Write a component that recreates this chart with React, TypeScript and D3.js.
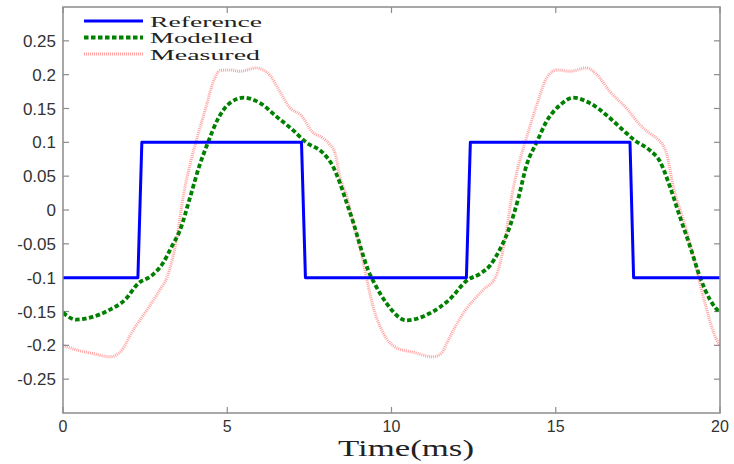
import React from "react";
import * as d3 from "d3";

const refT = [0, 2.28, 2.4, 7.26, 7.38, 12.28, 12.4, 17.26, 17.37, 20];
const refV = [-0.1, -0.1, 0.1, 0.1, -0.1, -0.1, 0.1, 0.1, -0.1, -0.1];

const modT = [0, 0.4, 0.9, 1.4, 1.9, 2.3, 2.7, 3.05, 3.3, 3.56, 3.87, 4.15, 4.4, 4.7, 5.08, 5.5, 6.0, 6.5, 7.0, 7.4, 7.9, 8.2, 8.43, 8.64, 8.84, 9.04, 9.29, 9.5, 9.85, 10.45, 11.15, 11.75, 12.3, 12.7, 13.0, 13.3, 13.56, 13.87, 14.11, 14.42, 14.72, 15.13, 15.53, 16.04, 16.55, 17.05, 17.4, 17.87, 18.17, 18.48, 18.78, 19.09, 19.39, 19.7, 20];
const modV = [-0.152, -0.162, -0.158, -0.148, -0.132, -0.108, -0.097, -0.078, -0.055, -0.03, 0.019, 0.065, 0.098, 0.133, 0.158, 0.166, 0.158, 0.138, 0.118, 0.1, 0.085, 0.066, 0.04, 0.01, -0.019, -0.052, -0.089, -0.11, -0.138, -0.163, -0.153, -0.133, -0.104, -0.094, -0.082, -0.058, -0.03, 0.019, 0.066, 0.1, 0.131, 0.155, 0.166, 0.158, 0.14, 0.118, 0.103, 0.088, 0.072, 0.034, -0.01, -0.054, -0.099, -0.133, -0.152];

const meaT = [0, 0.5, 0.9, 1.43, 1.74, 2.13, 2.55, 2.95, 3.16, 3.47, 3.66, 3.87, 4.1, 4.37, 4.57, 4.78, 5.08, 5.39, 5.9, 6.09, 6.3, 6.6, 6.91, 7.25, 7.6, 7.92, 8.1, 8.28, 8.43, 8.64, 8.84, 9.04, 9.19, 9.44, 9.75, 10.16, 10.65, 11.27, 11.55, 11.68, 12.18, 12.79, 13.16, 13.47, 13.66, 13.87, 14.11, 14.42, 14.72, 15.03, 15.43, 15.94, 16.25, 16.65, 17.16, 17.56, 17.9, 18.1, 18.37, 18.58, 18.89, 19.19, 19.49, 19.9, 20];
const meaV = [-0.2, -0.208, -0.212, -0.217, -0.21, -0.178, -0.148, -0.118, -0.1, -0.04, 0.02, 0.068, 0.11, 0.155, 0.189, 0.206, 0.207, 0.205, 0.21, 0.207, 0.199, 0.175, 0.151, 0.14, 0.115, 0.106, 0.098, 0.084, 0.049, 0.02, -0.019, -0.055, -0.089, -0.143, -0.182, -0.204, -0.21, -0.217, -0.21, -0.197, -0.153, -0.118, -0.1, -0.04, 0.02, 0.067, 0.107, 0.155, 0.195, 0.207, 0.205, 0.21, 0.2, 0.175, 0.15, 0.126, 0.112, 0.105, 0.084, 0.034, -0.015, -0.069, -0.128, -0.192, -0.2];

const xTicks = [0, 5, 10, 15, 20];
const yTicks = [0.25, 0.2, 0.15, 0.1, 0.05, 0, -0.05, -0.1, -0.15, -0.2, -0.25];
const legendLabels = ["Reference", "Modelled", "Measured"];

export default function App() {
  const W = 734, H = 464;
  const L = 63, R = 720, T = 7, B = 413;
  const x = d3.scaleLinear().domain([0, 20]).range([L, R]);
  const y = d3.scaleLinear().domain([-0.3, 0.3]).range([B, T]);
  const line = d3.line<[number, number]>().x(d => x(d[0])).y(d => y(d[1]));
  const smooth = d3.line<[number, number]>().x(d => x(d[0])).y(d => y(d[1])).curve(d3.curveMonotoneX);
  const refD = line(refT.map((t, i) => [t, refV[i]]));
  const modD = smooth(modT.map((t, i) => [t, modV[i]]));
  const meaD = smooth(meaT.map((t, i) => [t, meaV[i]]));
  const axisColor = "#8c8c8c";
  const tickLen = 6;
  const styles = [
    { stroke: "#0000ff", width: 3, dash: undefined as string | undefined, opacity: 1 },
    { stroke: "#008000", width: 3.8, dash: "4.5 2.5", opacity: 1 },
    { stroke: "#ff3030", width: 3, dash: "1 1", opacity: 0.45 },
  ];
  const legendY = [21, 37.5, 54];
  const legendTextLen = [112, 103, 110];
  const serif = "Liberation Serif, Times New Roman, serif";
  return (
    <div style={{ position: "fixed", left: 0, top: 0, width: W, height: H, background: "#fff" }}>
      <svg width={W} height={H} style={{ display: "block" }}>
        <rect x={0} y={0} width={W} height={H} fill="#fff" />
        <defs>
          <clipPath id="plotclip">
            <rect x={L} y={T} width={R - L} height={B - T} />
          </clipPath>
        </defs>
        {xTicks.map(t => (
          <g key={"xt" + t}>
            <line x1={x(t)} x2={x(t)} y1={B} y2={B - tickLen} stroke={axisColor} strokeWidth={1.2} />
            <line x1={x(t)} x2={x(t)} y1={T} y2={T + tickLen} stroke={axisColor} strokeWidth={1.2} />
            <text x={x(t)} y={432} textAnchor="middle" fontFamily="Liberation Sans, Arial, sans-serif" fontSize={16} fill="#333">{t}</text>
          </g>
        ))}
        {yTicks.map(v => (
          <g key={"yt" + v}>
            <line x1={L} x2={L + tickLen} y1={y(v)} y2={y(v)} stroke={axisColor} strokeWidth={1.2} />
            <line x1={R} x2={R - tickLen} y1={y(v)} y2={y(v)} stroke={axisColor} strokeWidth={1.2} />
            <text x={56} y={y(v) + 6} textAnchor="end" fontFamily="Liberation Sans, Arial, sans-serif" fontSize={17} fill="#333">{String(v)}</text>
          </g>
        ))}
        <g clipPath="url(#plotclip)">
          <path d={meaD || ""} fill="none" stroke={styles[2].stroke} strokeWidth={styles[2].width} strokeDasharray={styles[2].dash} strokeOpacity={styles[2].opacity} />
          <path d={modD || ""} fill="none" stroke={styles[1].stroke} strokeWidth={styles[1].width} strokeDasharray={styles[1].dash} />
          <path d={refD || ""} fill="none" stroke={styles[0].stroke} strokeWidth={styles[0].width} strokeLinejoin="round" />
        </g>
        <rect x={L} y={T} width={R - L} height={B - T} fill="none" stroke={axisColor} strokeWidth={1.5} />
        {legendLabels.map((lab, i) => (
          <g key={lab}>
            <line x1={84} x2={143} y1={legendY[i]} y2={legendY[i]} stroke={styles[i].stroke} strokeWidth={styles[i].width} strokeDasharray={styles[i].dash} strokeOpacity={styles[i].opacity} />
            <text x={150} y={legendY[i] + 5.5} fontFamily={serif} fontSize={15.5} fill="#222" textLength={legendTextLen[i]} lengthAdjust="spacingAndGlyphs">{lab}</text>
          </g>
        ))}
        <text x={406} y={456} textAnchor="middle" fontFamily={serif} fontSize={24} fill="#222" textLength={136} lengthAdjust="spacingAndGlyphs">Time(ms)</text>
      </svg>
    </div>
  );
}
